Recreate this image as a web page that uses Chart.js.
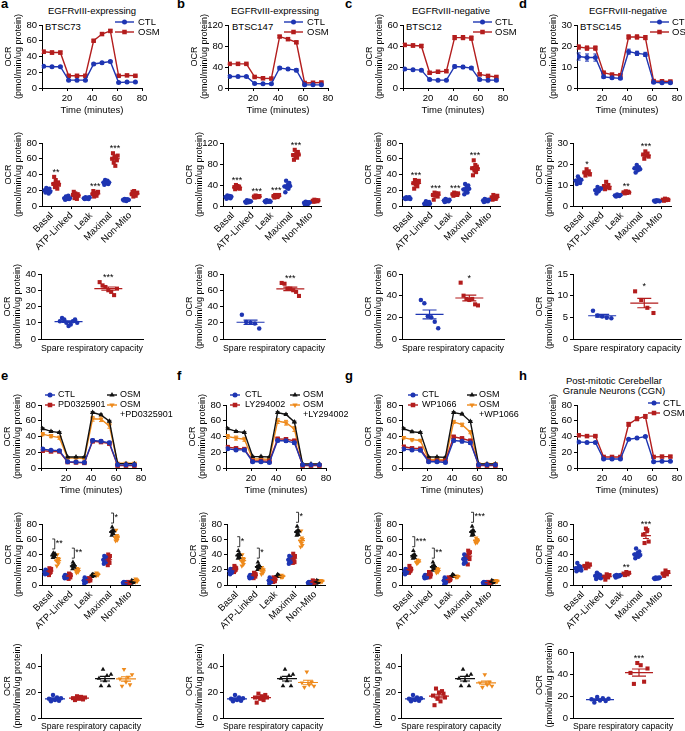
<!DOCTYPE html>
<html>
<head>
<meta charset="utf-8">
<script src="https://cdn.jsdelivr.net/npm/chart.js@4.4.0/dist/chart.umd.min.js"></script>
<style>
  html, body { margin: 0; padding: 0; background: #fff; }
  #figura { position: relative; width: 685px; height: 731px; overflow: hidden; font-family: 'Liberation Sans', Arial, sans-serif; color: #000; }
  #figura canvas { position: absolute; }
  .letra { position: absolute; font-weight: bold; font-size: 13px; line-height: 13px; }
  .titulo { position: absolute; font-size: 9.5px; line-height: 10px; text-align: center; transform: translateX(-50%); white-space: nowrap; }
  .rotulo { position: absolute; font-size: 9.5px; line-height: 11px; white-space: nowrap; }
</style>
</head>
<body>
<div id="figura"></div>
<script>
// ---------- dados ----------
const tempos = [1.3, 8, 14.7, 21.3, 28, 34.7, 41.3, 48, 54.7, 61.3, 68, 74.7];
const categorias = ['Basal', 'ATP-Linked', 'Leak', 'Maximal', 'Non-Mito'];

// a - BTSC73
const aTempoCtl = [27.5, 27, 27, 10, 10, 10, 30.5, 32, 33.5, 7, 7.5, 7.5];
const aErroCtl = [1, 1, 1, 0.8, 0.8, 0.8, 1.2, 1.2, 1.5, 0.5, 0.5, 0.5];
const aTempoOsm = [46, 45, 45, 15.5, 15.5, 15.5, 60, 68.5, 72.5, 15.5, 16, 15.5];
const aErroOsm = [2, 2, 1.8, 1, 1, 1, 1.2, 1.5, 1.5, 0.8, 0.8, 0.8];
const aPontosCtl = [
  [20, 17, 23, 19, 21, 16, 22, 18], [10, 8, 12, 9, 11, 13, 9, 10], [10, 9, 11, 10, 9.5, 10.5, 9, 11],
  [30, 27, 33, 31, 29, 32, 28, 30], [8, 7, 9, 8, 6.5, 8.5, 7.5, 8],
];
const aPontosOsm = [
  [28, 37, 24, 33, 26, 22, 30, 27], [14, 18, 10, 16, 12, 9, 15, 13], [15, 19, 12, 17, 14, 13, 16, 18],
  [60, 67, 55, 63, 51, 62, 58, 64], [15, 18, 12, 19, 14, 13, 16, 17],
];
const aEstrelas = ['**', '', '***', '***', ''];
const aReservaCtl = [11, 13, 12, 10, 8, 9, 11, 12, 10];
const aReservaOsm = [35, 33, 32, 30, 29, 27, 31];
const aReservaEstrela = '***';

// b - BTSC147
const bTempoCtl = [22, 22, 22, 8.5, 8, 8, 38, 36, 34, 6, 6, 6];
const bErroCtl = [1.5, 1, 1, 1, 1, 1, 3, 2, 3, 1, 1, 1];
const bTempoOsm = [46, 46, 46, 21, 18.5, 18, 98, 93, 87, 9.5, 10, 10.5];
const bErroOsm = [1.5, 1, 1, 1, 1, 1, 2, 2, 2, 1, 1, 1];
const bPontosCtl = [
  [17, 14, 20, 18, 16, 19, 15, 18], [8, 6, 11, 9, 7, 10, 8, 9], [9, 7, 11, 10, 8, 9, 10, 8],
  [37, 26, 48, 35, 40, 33, 44, 38], [6, 3, 8, 5, 7, 4, 6, 7],
];
const bPontosOsm = [
  [36, 32, 40, 35, 38, 34, 37, 33], [18, 16, 20, 17, 19, 18, 17, 19], [19, 16, 21, 18, 20, 17, 19, 21],
  [97, 88, 107, 95, 100, 92, 103, 98], [10, 8, 12, 9, 11, 10, 9, 11],
];
const bEstrelas = ['***', '***', '***', '***', ''];
const bReservaCtl = [30, 21, 20, 19, 13];
const bReservaOsm = [69, 68, 62, 62, 60, 58, 53];
const bReservaEstrela = '***';

// c - BTSC12
const cTempoCtl = [18, 17.5, 17, 8, 7.5, 7.5, 20.5, 20, 19, 8, 7.5, 7.5];
const cErroCtl = [1, 1, 1, 1, 0.5, 0.5, 1.5, 1.5, 1.5, 1, 1, 1];
const cTempoOsm = [41, 40.5, 40, 14.5, 15.5, 16, 48, 48, 47.5, 13, 11.5, 10.5];
const cErroOsm = [1.5, 1.5, 1.5, 1, 1, 1, 2, 2, 2, 1, 1, 1];
const cPontosCtl = [
  [10, 9, 11, 10, 9.5, 10.5, 11, 9], [3, 0.5, 6, 2, 4, 1.5, 5, 3], [7, 5, 9, 6, 8, 7, 6, 8],
  [21, 15, 28, 19, 24, 17, 26, 22], [7, 5, 9, 6, 8, 7, 6, 8],
];
const cPontosOsm = [
  [29, 22, 33, 27, 31, 25, 30, 32], [14, 8, 17, 13, 16, 15, 12, 16], [15, 13, 17, 14, 16, 15, 14, 16],
  [48, 39, 58, 45, 52, 43, 50, 47], [11, 8, 14, 10, 12, 9, 11, 13],
];
const cEstrelas = ['***', '***', '***', '***', ''];
const cReservaCtl = [36, 33, 21, 20, 16, 10];
const cReservaOsm = [52, 40, 37, 36, 37, 32, 31];
const cReservaEstrela = '*';

// d - BTSC145
const dTempoCtl = [15, 14.5, 14.5, 5.3, 4.9, 4.6, 17.3, 16.5, 16, 2.7, 2.5, 2.5];
const dErroCtl = [1.7, 1.7, 1.7, 0.5, 0.5, 0.5, 1.2, 1, 1, 0.4, 0.4, 0.4];
const dTempoOsm = [19.5, 19, 19, 7.3, 6.4, 6.1, 24.3, 24.3, 24, 3.3, 3.2, 3.1];
const dErroOsm = [1, 1, 1, 0.4, 0.4, 0.4, 1, 1, 1, 0.3, 0.3, 0.3];
const dPontosCtl = [
  [12, 10.5, 14, 13, 11, 12.5], [7.5, 6, 9, 7, 8, 8.5], [5, 4.5, 5.5, 5, 4.8, 5.2],
  [18, 16, 19.5, 17, 18.5, 17.5], [2.5, 2, 2.7, 2.4, 2.6, 2.3],
];
const dPontosOsm = [
  [16, 14.5, 17.5, 15.5, 16.5, 15], [9.5, 8, 11.5, 9, 10, 8.5], [6.5, 6, 7, 6.2, 6.8, 6.4],
  [24.5, 22.5, 26, 24, 25, 23.5], [3, 2.5, 3.5, 2.8, 3.2, 2.9],
];
const dEstrelas = ['*', '', '**', '***', ''];
const dReservaCtl = [6.5, 5.4, 5.2, 4.9, 4.8];
const dReservaOsm = [11, 9, 7.2, 6];
const dReservaEstrela = '*';

// e - PD0325901
const eTempoCtl = [24, 22.5, 22, 8, 7.5, 7, 35, 34, 32, 4, 4, 4];
const eTempoDroga = [22, 21, 21, 7.5, 7, 6.5, 34, 33, 31, 3, 3, 3];
const eTempoOsm = [50, 46.5, 45, 14, 14, 14, 70.5, 67.5, 59.5, 5.5, 5.5, 5.5];
const eTempoCombo = [43, 40.5, 38.5, 12.5, 12.5, 12, 62.5, 62, 53.5, 6, 6, 6];
const eErroCtl = [1.5, 1, 1, 0.5, 0.5, 0.5, 2, 2, 2, 0.5, 0.5, 0.5];
const eErroDroga = [1.5, 1, 1, 0.5, 0.5, 0.5, 2, 2, 2, 0.5, 0.5, 0.5];
const eErroOsm = [1, 1, 1, 0.5, 0.5, 0.5, 1, 1, 1, 0.5, 0.5, 0.5];
const eErroCombo = [2, 2, 2, 1, 1, 1, 3, 3, 3, 1, 1, 1];
const ePontosCtl = [
  [17, 14, 20, 16, 19, 18, 15], [11, 9, 13, 10, 12, 11, 10], [6, 2, 10, 5, 8, 4, 7],
  [33, 28, 38, 31, 35, 30, 36], [3, 2, 4, 3, 3.5, 2.5, 3],
];
const ePontosDroga = [
  [18, 13, 22, 16, 20, 17, 21], [12, 8, 15, 11, 14, 10, 13], [7, 5, 9, 6, 8, 7, 6],
  [33, 26, 40, 30, 36, 29, 38], [3, 2, 4, 3, 3.5, 2.5, 3],
];
const ePontosOsm = [
  [39, 36, 42, 38, 40, 37, 41], [25, 21, 30, 24, 27, 23, 26], [13, 11, 14, 12, 13.5, 12.5, 13],
  [70, 65, 76, 68, 72, 67, 71], [4, 2, 6, 3.5, 5, 3, 4.5],
];
const ePontosCombo = [
  [32, 25, 40, 30, 35, 28, 34], [19, 16, 22, 18, 20, 17, 21], [14, 12, 16, 13, 15, 14, 13],
  [62, 58, 72, 60, 65, 59, 63], [6, 4, 8, 5, 7, 6, 5],
];
const eEstrelas = ['**', '**', '', '*', ''];
const eReservaCtl = [15, 13, 18, 14, 16, 13.5, 15.5];
const eReservaDroga = [15.5, 14, 17, 15, 16.5, 14.5, 16];
const eReservaOsm = [31, 25, 38, 29, 33, 25, 34];
const eReservaCombo = [30.5, 25, 38, 28, 32, 26, 34];

// f - LY294002
const fTempoCtl = [24.5, 23, 23, 8, 8, 7, 35, 34.5, 32, 4, 4, 4];
const fTempoDroga = [26.5, 25, 24, 9, 9, 8.5, 37, 36.5, 34.5, 3, 3, 3];
const fTempoOsm = [50, 46.5, 45, 14.5, 14.5, 14, 70.5, 68, 58.5, 5, 5, 5];
const fTempoCombo = [40, 38, 36.5, 11.5, 11.5, 11, 59.5, 57.5, 49.5, 4.5, 4.5, 4.5];
const fErroCtl = [1.5, 1, 1, 0.5, 0.5, 0.5, 2, 2, 2, 0.5, 0.5, 0.5];
const fErroDroga = [1.5, 1, 1, 0.5, 0.5, 0.5, 2, 2, 2, 0.5, 0.5, 0.5];
const fErroOsm = [1, 1, 1, 0.5, 0.5, 0.5, 1, 1, 1, 0.5, 0.5, 0.5];
const fErroCombo = [2.5, 2.5, 2.5, 1, 1, 1, 3, 3, 3, 1, 1, 1];
const fPontosCtl = [
  [18, 14, 21, 17, 20, 16, 19], [11, 9, 13, 10, 12, 11, 10], [6, 2, 10, 5, 8, 4, 7],
  [33, 28, 38, 31, 35, 30, 36], [3, 2, 4, 3, 3.5, 2.5, 3],
];
const fPontosDroga = [
  [21, 17, 25, 19, 23, 20, 22], [13, 9, 16, 12, 15, 11, 14], [7, 4, 10, 6, 9, 5, 8],
  [34, 29, 41, 32, 37, 30, 38], [4, 2, 6, 3, 5, 3.5, 4.5],
];
const fPontosOsm = [
  [39, 35, 45, 37, 41, 36, 40], [24, 20, 30, 23, 26, 22, 25], [12, 11, 14, 12.5, 13, 11.5, 12],
  [70, 65, 77, 68, 72, 66, 71], [4, 2, 6, 3.5, 5, 3, 4.5],
];
const fPontosCombo = [
  [32, 25, 40, 30, 35, 27, 34], [19, 14, 23, 18, 21, 16, 20], [11, 10, 13, 11.5, 12, 10.5, 11],
  [58, 50, 71, 55, 62, 52, 60], [5, 4, 6, 5, 5.5, 4.5, 5],
];
const fEstrelas = ['*', '*', '', '*', ''];
const fReservaCtl = [15, 13, 18, 14, 16, 13.5, 15.5];
const fReservaDroga = [16, 12, 19, 15, 17, 14, 18, 16];
const fReservaOsm = [31, 25, 38, 29, 33, 25, 34];
const fReservaCombo = [27.5, 24, 36, 26, 28, 25];

// g - WP1066
const gTempoCtl = [24, 23, 22.5, 8, 8, 7, 35, 34, 32, 4, 4, 4];
const gTempoDroga = [27, 25, 24.5, 9, 9, 9, 39.5, 37.5, 34.5, 3, 3, 3];
const gTempoOsm = [50, 46, 45, 14, 14, 13.5, 70.5, 68.5, 59, 5, 5, 5];
const gTempoCombo = [38.5, 36, 35, 11, 11, 10.5, 58.5, 55, 45.5, 5, 5, 5.5];
const gErroCtl = [1.5, 1, 1, 0.5, 0.5, 0.5, 2, 2, 2, 0.5, 0.5, 0.5];
const gErroDroga = [1.5, 1, 1, 0.5, 0.5, 0.5, 2, 2, 2, 0.5, 0.5, 0.5];
const gErroOsm = [1, 1, 1, 0.5, 0.5, 0.5, 1, 1, 1, 0.5, 0.5, 0.5];
const gErroCombo = [1.5, 1.5, 1.5, 1, 1, 1, 2, 2, 2, 1, 1, 1];
const gPontosCtl = [
  [18, 14, 21, 17, 20, 16, 19], [11, 9, 13, 10, 12, 11, 10], [6, 1, 10, 5, 8, 3, 7],
  [34, 28, 40, 31, 36, 30, 37], [3, 2, 4, 3, 3.5, 2.5, 3],
];
const gPontosDroga = [
  [20, 16, 25, 18, 22, 19, 21], [13, 10, 17, 12, 15, 11, 14], [7, 5, 10, 6, 8, 6.5, 7.5],
  [39, 27, 45, 36, 42, 34, 43], [3, 2, 4, 3, 3.5, 2.5, 3],
];
const gPontosOsm = [
  [38, 35, 45, 37, 40, 36, 39], [24, 19, 30, 23, 26, 21, 25], [12, 11, 14, 12.5, 13, 11.5, 12],
  [70, 65, 77, 68, 72, 66, 71], [4, 2, 6, 3.5, 5, 3, 4.5],
];
const gPontosCombo = [
  [30, 28, 33, 29, 31, 30, 32], [19, 16, 22, 18, 20, 17, 21], [11, 10, 12, 11, 11.5, 10.5, 11],
  [58, 55, 62, 57, 60, 56, 59], [5, 4, 6, 5, 5.5, 4.5, 5],
];
const gEstrelas = ['***', '**', '', '***', ''];
const gReservaCtl = [15, 13, 18, 14, 16, 13.5, 15.5];
const gReservaDroga = [17.5, 10, 23, 15, 20, 13, 21, 19, 16];
const gReservaOsm = [31, 25, 38, 29, 33, 25, 34];
const gReservaCombo = [27.5, 24, 34, 26, 28, 25];

// h - CGN
const hTempoCtl = [33, 32.5, 32.5, 11.5, 11.5, 11.5, 36.5, 38, 40, 8, 8.5, 8.5];
const hErroCtl = [1, 1, 1, 0.5, 0.5, 0.5, 1, 1, 1, 0.5, 0.5, 0.5];
const hTempoOsm = [41.5, 40.5, 40.5, 14, 14, 14, 55.5, 62.5, 65.5, 14, 14.5, 14.5];
const hErroOsm = [1.5, 1, 1, 1, 1, 1, 2.5, 2.5, 2.5, 1, 1, 1];
const hPontosCtl = [
  [22, 18, 29, 20, 25, 21, 24, 19], [12, 8, 16, 11, 14, 10, 13, 9], [12, 10, 13, 11, 12.5, 11.5, 12, 13],
  [40, 35, 48, 38, 42, 37, 44, 39], [9, 8, 10, 9, 8.5, 9.5, 9, 10],
];
const hPontosOsm = [
  [25, 22, 28, 24, 27], [11, 7, 14, 10, 13], [15, 13, 17, 14, 16],
  [66, 55, 74, 72, 57], [15, 12, 19, 14, 17],
];
const hEstrelas = ['', '', '**', '***', ''];
const hReservaCtl = [17, 14, 19, 16, 18, 15.5, 17.5];
const hReservaOsm = [41, 31, 50, 48, 33, 45];
const hReservaEstrela = '***';

// ---------- estilos ----------
const azul = '#1e35b2';
const vermelho = '#b31d1d';
const laranja = '#ee8a1c';
const preto = '#111111';
const FONTE = "'Liberation Sans', Arial, sans-serif";
const LARGURA_Y = 42;

const estiloCtl = { cor: azul, forma: 'circle', rotacao: 0, raio: 2.5 };
const estiloVermelho = { cor: vermelho, forma: 'rect', rotacao: 0, raio: 3.2 };
const estiloPreto = { cor: preto, forma: 'triangle', rotacao: 0, raio: 3 };
const estiloLaranja = { cor: laranja, forma: 'triangle', rotacao: 180, raio: 3 };

Chart.defaults.font.family = FONTE;
Chart.defaults.color = '#000';

const figura = document.querySelector('#figura');

function texto(conteudo, classe, left, top) {
  const el = document.createElement('div');
  el.className = classe;
  el.innerHTML = conteudo;
  el.style.left = left + 'px';
  el.style.top = top + 'px';
  figura.appendChild(el);
}

function criarCanvas(p) {
  const canvas = document.createElement('canvas');
  const largura = LARGURA_Y + p.largura + p.dir;
  const altura = p.sup + (p.base - p.topo) + p.alturaX;
  canvas.width = largura;
  canvas.height = altura;
  canvas.style.width = largura + 'px';
  canvas.style.height = altura + 'px';
  canvas.style.left = p.eixo - LARGURA_Y + 'px';
  canvas.style.top = p.topo - p.sup + 'px';
  figura.appendChild(canvas);
  return canvas;
}

function desenharForma(ctx, forma, rotacao, x, y, r) {
  ctx.beginPath();
  if (forma === 'circle') {
    ctx.arc(x, y, r, 0, Math.PI * 2);
  } else if (forma === 'rect') {
    const s = r * Math.SQRT1_2;
    ctx.rect(x - s, y - s, 2 * s, 2 * s);
  } else {
    let rad = (rotacao * Math.PI) / 180;
    for (let i = 0; i < 3; i++) {
      const px = x + Math.sin(rad) * r;
      const py = y - Math.cos(rad) * r;
      if (i === 0) ctx.moveTo(px, py);
      else ctx.lineTo(px, py);
      rad += (2 * Math.PI) / 3;
    }
    ctx.closePath();
  }
  ctx.fill();
}

// barras de erro das curvas de tempo
const pluginErros = {
  id: 'barrasErro',
  beforeDatasetsDraw(chart) {
    const { ctx, scales: { x, y } } = chart;
    chart.data.datasets.forEach((ds) => {
      if (!ds.erros) return;
      ctx.save();
      ctx.strokeStyle = ds.borderColor;
      ctx.lineWidth = 1;
      ds.data.forEach((p, i) => {
        const e = ds.erros[i];
        if (!e) return;
        const px = x.getPixelForValue(p.x);
        const y1 = y.getPixelForValue(p.y - e);
        const y2 = y.getPixelForValue(p.y + e);
        ctx.beginPath();
        ctx.moveTo(px, y1);
        ctx.lineTo(px, y2);
        ctx.moveTo(px - 2, y1);
        ctx.lineTo(px + 2, y1);
        ctx.moveTo(px - 2, y2);
        ctx.lineTo(px + 2, y2);
        ctx.stroke();
      });
      ctx.restore();
    });
  },
};

// media e erro padrao dos graficos de pontos
const pluginResumo = {
  id: 'mediaErro',
  afterDatasetsDraw(chart) {
    const { ctx, scales: { x, y } } = chart;
    chart.data.datasets.forEach((ds) => {
      if (!ds.grupos) return;
      ctx.save();
      ctx.strokeStyle = ds.borderColor;
      ctx.lineWidth = 1.2;
      ds.grupos.forEach((valores, k) => {
        const n = valores.length;
        const media = valores.reduce((s, v) => s + v, 0) / n;
        const variancia = valores.reduce((s, v) => s + (v - media) ** 2, 0) / (n - 1);
        const epm = Math.sqrt(variancia / n);
        const cx = x.getPixelForValue(ds.centros[k]);
        const ym = y.getPixelForValue(media);
        const ya = y.getPixelForValue(media + epm);
        const yb = y.getPixelForValue(media - epm);
        ctx.beginPath();
        ctx.moveTo(cx - ds.meiaMedia, ym);
        ctx.lineTo(cx + ds.meiaMedia, ym);
        ctx.moveTo(cx, ya);
        ctx.lineTo(cx, yb);
        ctx.moveTo(cx - ds.meiaTampa, ya);
        ctx.lineTo(cx + ds.meiaTampa, ya);
        ctx.moveTo(cx - ds.meiaTampa, yb);
        ctx.lineTo(cx + ds.meiaTampa, yb);
        ctx.stroke();
      });
      ctx.restore();
    });
  },
};

// asteriscos e colchetes
const pluginMarcas = {
  id: 'marcasSignificancia',
  afterDatasetsDraw(chart) {
    const marcas = chart.data.marcas;
    if (!marcas) return;
    const { ctx, scales: { x, y } } = chart;
    ctx.save();
    ctx.fillStyle = '#000';
    ctx.strokeStyle = '#000';
    ctx.lineWidth = 0.8;
    ctx.font = '9px ' + FONTE;
    ctx.textBaseline = 'alphabetic';
    marcas.forEach((m) => {
      const px = x.getPixelForValue(m.x);
      const py = y.getPixelForValue(m.topo);
      if (m.colchete) {
        const y1 = py - 14;
        const y2 = py - 4;
        ctx.beginPath();
        ctx.moveTo(px - 2.5, y1);
        ctx.lineTo(px, y1);
        ctx.lineTo(px, y2);
        ctx.lineTo(px - 2.5, y2);
        ctx.stroke();
        ctx.textAlign = 'left';
        ctx.fillText(m.texto, px + 1, y1 + 7);
      } else {
        ctx.textAlign = 'center';
        ctx.fillText(m.texto, px, py - 2);
      }
    });
    ctx.restore();
  },
};

// legenda desenhada dentro do grafico
const pluginLegenda = {
  id: 'legendaManual',
  afterDraw(chart) {
    const legenda = chart.data.legenda;
    if (!legenda) return;
    const { ctx, chartArea } = chart;
    ctx.save();
    ctx.font = legenda.fonte + 'px ' + FONTE;
    ctx.textAlign = 'left';
    ctx.textBaseline = 'middle';
    legenda.itens.forEach((item) => {
      const ds = chart.data.datasets[item.serie];
      const x0 = chartArea.left + item.x;
      const y0 = chartArea.top + item.y;
      ctx.strokeStyle = ds.borderColor;
      ctx.fillStyle = ds.borderColor;
      ctx.lineWidth = 1.4;
      ctx.beginPath();
      ctx.moveTo(x0, y0);
      ctx.lineTo(x0 + legenda.comprimento, y0);
      ctx.stroke();
      desenharForma(ctx, ds.pointStyle, ds.pointRotation || 0, x0 + legenda.comprimento / 2, y0, ds.pointRadius);
      ctx.fillStyle = '#000';
      ds.label.split('\n').forEach((linha, i) => {
        ctx.fillText(linha, chartArea.left + item.xt, y0 + i * 10);
      });
    });
    ctx.restore();
  },
};

Chart.register(pluginErros, pluginResumo, pluginMarcas, pluginLegenda);

function estiloPonto(e) {
  return {
    borderColor: e.cor,
    backgroundColor: e.cor,
    pointStyle: e.forma,
    pointRotation: e.rotacao,
    pointRadius: e.raio,
    pointHoverRadius: e.raio,
    pointBorderWidth: 0,
  };
}

function espalhar(valores, centro, largura) {
  const n = valores.length;
  return valores.map((v, i) => ({ x: centro + (n > 1 ? (i / (n - 1) - 0.5) * largura : 0), y: v }));
}

function eixoY(max, passo) {
  return {
    min: 0,
    max,
    ticks: { stepSize: passo, color: '#000', font: { size: 9.5 }, padding: 2 },
    grid: { drawOnChartArea: false, drawTicks: true, tickLength: 3, color: '#000' },
    border: { display: true, color: '#000', width: 1 },
    title: {
      display: true,
      text: ['OCR', '(pmol/min/ug protein)'],
      color: '#000',
      font: { size: 9, lineHeight: 1.15 },
      padding: { top: 3, bottom: 0 },
    },
    afterFit: (escala) => {
      escala.width = LARGURA_Y;
    },
  };
}

function opcoes(p, escalas) {
  return {
    responsive: false,
    animation: false,
    devicePixelRatio: 1,
    layout: { padding: { top: p.sup, right: p.dir, left: 0, bottom: 0 } },
    scales: escalas,
    plugins: { legend: { display: false }, tooltip: { enabled: false } },
  };
}

function graficoTempo(p, maxY, passo, series, legenda) {
  const canvas = criarCanvas(p);
  return new Chart(canvas, {
    type: 'scatter',
    data: {
      legenda,
      datasets: series.map((s) => ({
        label: s.rotulo,
        data: tempos.map((t, i) => ({ x: t, y: s.valores[i] })),
        erros: s.erros,
        showLine: true,
        borderWidth: 1.4,
        ...estiloPonto(s.estilo),
      })),
    },
    options: opcoes(p, {
      x: {
        type: 'linear',
        min: 0,
        max: 80,
        ticks: { stepSize: 20, color: '#000', font: { size: 9.5 }, padding: 2, callback: (v) => (v === 0 ? '' : v) },
        grid: { drawOnChartArea: false, drawTicks: true, tickLength: 3, color: '#000' },
        border: { display: true, color: '#000', width: 1 },
        title: { display: true, text: 'Time (minutes)', color: '#000', font: { size: 9.5 }, padding: 0 },
        afterFit: (escala) => {
          escala.height = p.alturaX;
        },
      },
      y: eixoY(maxY, passo),
    }),
  });
}

function graficoPontos(p, maxY, passo, grupos, estrelas) {
  const canvas = criarCanvas(p);
  const quatro = grupos.length === 4;
  const deslocamentos = quatro ? [-0.3, -0.1, 0.1, 0.3] : [-0.22, 0.22];
  const espalhamento = quatro ? 0.13 : 0.28;
  const datasets = grupos.map((g, k) => {
    const centros = categorias.map((_, c) => c + 1 + deslocamentos[k]);
    return {
      label: g.rotulo,
      data: g.pontos.flatMap((vals, c) => espalhar(vals, centros[c], espalhamento)),
      grupos: g.pontos,
      centros,
      meiaMedia: quatro ? 3.5 : 5,
      meiaTampa: quatro ? 2 : 3,
      ...estiloPonto({ ...g.estilo, raio: g.estilo.raio * 0.9 }),
    };
  });
  const marcas = [];
  estrelas.forEach((t, c) => {
    if (!t) return;
    if (quatro) {
      const topo = Math.max(...grupos[2].pontos[c], ...grupos[3].pontos[c]);
      marcas.push({ x: c + 1 + 0.15, topo, texto: t, colchete: true });
    } else {
      marcas.push({ x: c + 1 + deslocamentos[1], topo: Math.max(...grupos[1].pontos[c]), texto: t });
    }
  });
  return new Chart(canvas, {
    type: 'scatter',
    data: { datasets, marcas },
    options: opcoes(p, {
      x: {
        type: 'linear',
        min: 0.5,
        max: 5.5,
        afterBuildTicks: (escala) => {
          escala.ticks = categorias.map((_, i) => ({ value: i + 1 }));
        },
        ticks: {
          autoSkip: false,
          minRotation: 45,
          maxRotation: 45,
          padding: 1,
          color: '#000',
          font: { size: 9.5 },
          callback: (v) => categorias[Math.round(v) - 1] || '',
        },
        grid: { drawOnChartArea: false, drawTicks: true, tickLength: 3, color: '#000' },
        border: { display: true, color: '#000', width: 1 },
        afterFit: (escala) => {
          escala.height = p.alturaX;
        },
      },
      y: eixoY(maxY, passo),
    }),
  });
}

function graficoReserva(p, maxY, passo, grupos, estrela) {
  const canvas = criarCanvas(p);
  const quatro = grupos.length === 4;
  const centros = quatro ? [0.14, 0.38, 0.64, 0.85] : [0.27, 0.66];
  const espalhamento = quatro ? 0.12 : 0.17;
  const datasets = grupos.map((g, k) => ({
    label: g.rotulo,
    data: espalhar(g.valores, centros[k], espalhamento),
    grupos: [g.valores],
    centros: [centros[k]],
    meiaMedia: quatro ? 10 : 14,
    meiaTampa: quatro ? 5 : 7,
    ...estiloPonto({ ...g.estilo, raio: g.estilo.raio * 0.9 }),
  }));
  const marcas = estrela ? [{ x: centros[1], topo: Math.max(...grupos[1].valores), texto: estrela }] : [];
  return new Chart(canvas, {
    type: 'scatter',
    data: { datasets, marcas },
    options: opcoes(p, {
      x: {
        type: 'linear',
        min: 0,
        max: 1,
        ticks: { display: false },
        grid: { drawOnChartArea: false, drawTicks: false },
        border: { display: true, color: '#000', width: 1 },
        title: { display: true, text: 'Spare respiratory capacity', color: '#000', font: { size: 9.5 }, padding: 0 },
        afterFit: (escala) => {
          escala.height = p.alturaX;
        },
      },
      y: eixoY(maxY, passo),
    }),
  });
}

function legendaDupla(x, xt) {
  return {
    fonte: 9.5,
    comprimento: 19,
    itens: [
      { serie: 0, x, xt, y: -3 },
      { serie: 1, x, xt, y: 7 },
    ],
  };
}

function legendaQuadrupla(x1, xt1, x2, xt2) {
  return {
    fonte: 9,
    comprimento: 10,
    itens: [
      { serie: 0, x: x1, xt: xt1, y: -10 },
      { serie: 1, x: x1, xt: xt1, y: 0 },
      { serie: 2, x: x2, xt: xt2, y: -10 },
      { serie: 3, x: x2, xt: xt2, y: 0 },
    ],
  };
}

// geometria das linhas de paineis
const linhaTempo1 = { topo: 25, base: 88, sup: 14, dir: 32, alturaX: 28, largura: 100 };
const linhaPontos1 = { topo: 143, base: 206, sup: 12, dir: 12, alturaX: 50, largura: 98 };
const linhaReserva1 = { topo: 274, base: 339, sup: 10, dir: 6, alturaX: 15, largura: 102 };
const linhaTempo2 = { topo: 405, base: 468, sup: 20, dir: 45, alturaX: 28, largura: 100 };
const linhaPontos2 = { topo: 524, base: 585, sup: 14, dir: 12, alturaX: 50, largura: 98 };
const linhaReserva2 = { topo: 654, base: 718, sup: 10, dir: 6, alturaX: 14, largura: 100 };

// ---------- textos ----------
[['a', 1, -3], ['b', 177, -3], ['c', 345, -3], ['d', 519, -3], ['e', 1, 369], ['f', 177, 369], ['g', 345, 369], ['h', 519, 369]]
  .forEach(([l, x, y]) => texto(l, 'letra', x, y));
texto('EGFRvIII-expressing', 'titulo', 92, 6);
texto('EGFRvIII-expressing', 'titulo', 275, 6);
texto('EGFRvIII-negative', 'titulo', 451, 6);
texto('EGFRvIII-negative', 'titulo', 628, 6);
texto('Post-mitotic Cerebellar<br>Granule Neurons (CGN)', 'titulo', 614, 376);
texto('BTSC73', 'rotulo', 45, 21);
texto('BTSC147', 'rotulo', 232, 21);
texto('BTSC12', 'rotulo', 406, 21);
texto('BTSC145', 'rotulo', 580, 21);

// ---------- graficos a-d ----------
const ctl = (valores, erros) => ({ rotulo: 'CTL', valores, erros, estilo: estiloCtl });
const osm = (valores, erros) => ({ rotulo: 'OSM', valores, erros, estilo: estiloVermelho });

graficoTempo({ ...linhaTempo1, eixo: 42 }, 80, 20, [ctl(aTempoCtl, aErroCtl), osm(aTempoOsm, aErroOsm)], legendaDupla(73, 96));
graficoTempo({ ...linhaTempo1, eixo: 228 }, 120, 20, [ctl(bTempoCtl, bErroCtl), osm(bTempoOsm, bErroOsm)], legendaDupla(56, 79));
graficoTempo({ ...linhaTempo1, eixo: 403 }, 60, 20, [ctl(cTempoCtl, cErroCtl), osm(cTempoOsm, cErroOsm)], legendaDupla(70, 92));
graficoTempo({ ...linhaTempo1, eixo: 577 }, 30, 10, [ctl(dTempoCtl, dErroCtl), osm(dTempoOsm, dErroOsm)], legendaDupla(73, 95));

const gCtl = (pontos) => ({ rotulo: 'CTL', pontos, estilo: estiloCtl });
const gOsm = (pontos) => ({ rotulo: 'OSM', pontos, estilo: estiloVermelho });

graficoPontos({ ...linhaPontos1, eixo: 42 }, 80, 20, [gCtl(aPontosCtl), gOsm(aPontosOsm)], aEstrelas);
graficoPontos({ ...linhaPontos1, eixo: 223 }, 120, 20, [gCtl(bPontosCtl), gOsm(bPontosOsm)], bEstrelas);
graficoPontos({ ...linhaPontos1, eixo: 402 }, 80, 20, [gCtl(cPontosCtl), gOsm(cPontosOsm)], cEstrelas);
graficoPontos({ ...linhaPontos1, eixo: 573 }, 30, 10, [gCtl(dPontosCtl), gOsm(dPontosOsm)], dEstrelas);

const rCtl = (valores) => ({ rotulo: 'CTL', valores, estilo: estiloCtl });
const rOsm = (valores) => ({ rotulo: 'OSM', valores, estilo: estiloVermelho });

graficoReserva({ ...linhaReserva1, eixo: 41 }, 40, 10, [rCtl(aReservaCtl), rOsm(aReservaOsm)], aReservaEstrela);
graficoReserva({ ...linhaReserva1, eixo: 223 }, 80, 20, [rCtl(bReservaCtl), rOsm(bReservaOsm)], bReservaEstrela);
graficoReserva({ ...linhaReserva1, eixo: 402 }, 60, 20, [rCtl(cReservaCtl), rOsm(cReservaOsm)], cReservaEstrela);
graficoReserva({ ...linhaReserva1, eixo: 573, largura: 108 }, 15, 5, [rCtl(dReservaCtl), rOsm(dReservaOsm)], dReservaEstrela);

// ---------- graficos e-h ----------
function quatroSeries(droga, ctlV, ctlE, drV, drE, osV, osE, coV, coE) {
  return [
    { rotulo: 'CTL', valores: ctlV, erros: ctlE, estilo: estiloCtl },
    { rotulo: droga, valores: drV, erros: drE, estilo: estiloVermelho },
    { rotulo: 'OSM', valores: osV, erros: osE, estilo: estiloPreto },
    { rotulo: 'OSM\n+' + droga, valores: coV, erros: coE, estilo: estiloLaranja },
  ];
}

graficoTempo({ ...linhaTempo2, eixo: 41 }, 80, 20,
  quatroSeries('PD0325901', eTempoCtl, eErroCtl, eTempoDroga, eErroDroga, eTempoOsm, eErroOsm, eTempoCombo, eErroCombo),
  legendaQuadrupla(4, 17, 66, 79));
graficoTempo({ ...linhaTempo2, eixo: 226 }, 80, 20,
  quatroSeries('LY294002', fTempoCtl, fErroCtl, fTempoDroga, fErroDroga, fTempoOsm, fErroOsm, fTempoCombo, fErroCombo),
  legendaQuadrupla(4, 19, 64, 77));
graficoTempo({ ...linhaTempo2, eixo: 402 }, 80, 20,
  quatroSeries('WP1066', gTempoCtl, gErroCtl, gTempoDroga, gErroDroga, gTempoOsm, gErroOsm, gTempoCombo, gErroCombo),
  legendaQuadrupla(6, 20, 65, 77));
graficoTempo({ ...linhaTempo2, eixo: 577, sup: 12, dir: 12 }, 80, 20, [ctl(hTempoCtl, hErroCtl), osm(hTempoOsm, hErroOsm)], {
  fonte: 9.5,
  comprimento: 12,
  itens: [
    { serie: 0, x: 71, xt: 86, y: -2 },
    { serie: 1, x: 71, xt: 86, y: 8 },
  ],
});

function quatroGrupos(droga, ctlP, drP, osP, coP) {
  return [
    { rotulo: 'CTL', pontos: ctlP, estilo: estiloCtl },
    { rotulo: droga, pontos: drP, estilo: estiloVermelho },
    { rotulo: 'OSM', pontos: osP, estilo: estiloPreto },
    { rotulo: 'OSM+' + droga, pontos: coP, estilo: estiloLaranja },
  ];
}

graficoPontos({ ...linhaPontos2, eixo: 42 }, 80, 20, quatroGrupos('PD0325901', ePontosCtl, ePontosDroga, ePontosOsm, ePontosCombo), eEstrelas);
graficoPontos({ ...linhaPontos2, eixo: 227 }, 80, 20, quatroGrupos('LY294002', fPontosCtl, fPontosDroga, fPontosOsm, fPontosCombo), fEstrelas);
graficoPontos({ ...linhaPontos2, eixo: 402 }, 80, 20, quatroGrupos('WP1066', gPontosCtl, gPontosDroga, gPontosOsm, gPontosCombo), gEstrelas);
graficoPontos({ ...linhaPontos2, eixo: 573 }, 80, 20, [gCtl(hPontosCtl), gOsm(hPontosOsm)], hEstrelas);

function quatroReservas(droga, ctlV, drV, osV, coV) {
  return [
    { rotulo: 'CTL', valores: ctlV, estilo: estiloCtl },
    { rotulo: droga, valores: drV, estilo: estiloVermelho },
    { rotulo: 'OSM', valores: osV, estilo: estiloPreto },
    { rotulo: 'OSM+' + droga, valores: coV, estilo: estiloLaranja },
  ];
}

graficoReserva({ ...linhaReserva2, eixo: 41 }, 50, 10, quatroReservas('PD0325901', eReservaCtl, eReservaDroga, eReservaOsm, eReservaCombo), '');
graficoReserva({ ...linhaReserva2, eixo: 223 }, 50, 10, quatroReservas('LY294002', fReservaCtl, fReservaDroga, fReservaOsm, fReservaCombo), '');
graficoReserva({ ...linhaReserva2, eixo: 401 }, 50, 10, quatroReservas('WP1066', gReservaCtl, gReservaDroga, gReservaOsm, gReservaCombo), '');
graficoReserva({ ...linhaReserva2, eixo: 573, topo: 652 }, 60, 20, [rCtl(hReservaCtl), rOsm(hReservaOsm)], hReservaEstrela);
</script>
</body>
</html>
